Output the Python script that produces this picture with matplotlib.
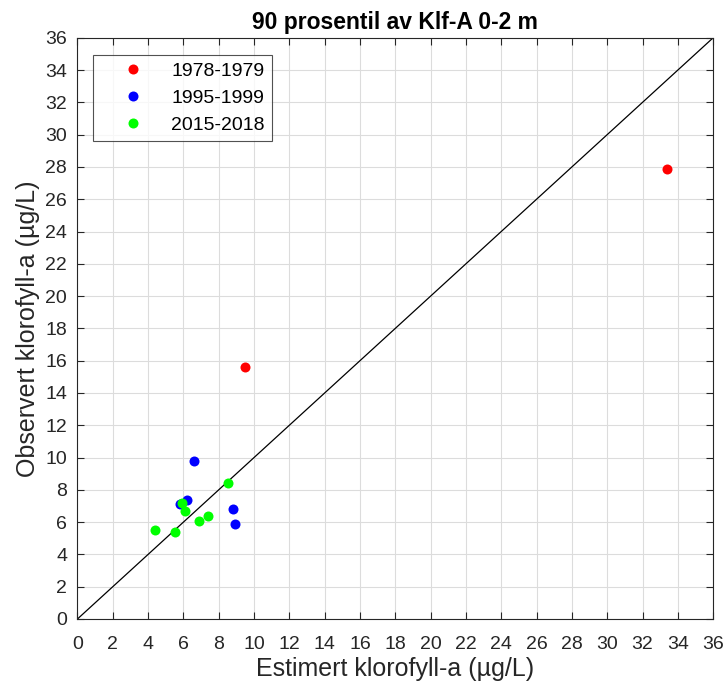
"""Scatter of observed vs estimated chlorophyll-a (90th percentile, 0-2 m)."""

import matplotlib

matplotlib.use("Agg")
import matplotlib.pyplot as plt

plt.rcParams["font.family"] = ["Liberation Sans", "DejaVu Sans"]

# 90th percentile values
periods = ["1978-1979", "1995-1999", "2015-2018"]
colors = ["#ff0000", "#0000ff", "#00ff00"]

est_1978 = [9.5, 33.4]
obs_1978 = [15.6, 27.9]

est_1995 = [6.6, 6.2, 5.8, 8.8, 8.9]
obs_1995 = [9.8, 7.4, 7.1, 6.8, 5.9]

est_2015 = [8.5, 5.9, 6.1, 6.9, 7.4, 4.4, 5.5]
obs_2015 = [8.4, 7.2, 6.7, 6.1, 6.4, 5.5, 5.4]

ticks = list(range(0, 37, 2))
axis_max = 36

fig = plt.figure(figsize=(7.24, 6.87), dpi=100)
ax = fig.add_axes([0.107, 0.099, 0.878, 0.846])

ax.plot([0, axis_max], [0, axis_max], color="black", linewidth=0.9, zorder=2)

series = [(est_1978, obs_1978), (est_1995, obs_1995), (est_2015, obs_2015)]
for (x, y), label, color in zip(series, periods, colors):
    ax.plot(x, y, "o", color=color, markersize=7.2, label=label, zorder=3,
            markeredgewidth=0)

ax.set_xlim(0, axis_max)
ax.set_ylim(0, axis_max)
ax.set_xticks(ticks)
ax.set_yticks(ticks)
ax.grid(True, color="#dcdcdc", linewidth=0.8)
ax.set_axisbelow(True)
ax.tick_params(direction="in", top=True, right=True, labelsize=14,
               colors="#262626", length=5, width=0.8)
ax.tick_params(axis="x", pad=12)
ax.tick_params(axis="y", pad=7.5)
for spine in ax.spines.values():
    spine.set_color("#262626")
    spine.set_linewidth(0.8)

ax.set_xlabel("Estimert klorofyll-a (µg/L)", fontsize=18, color="#262626",
              labelpad=3)
ax.set_ylabel("Observert klorofyll-a (µg/L)", fontsize=18, color="#262626",
              labelpad=4)
ax.set_title("90 prosentil av Klf-A 0-2 m", fontsize=16.5, fontweight="bold",
             pad=6)

leg = ax.legend(loc="upper left", bbox_to_anchor=(0.0245, 0.97), fontsize=14,
                frameon=True, fancybox=False, edgecolor="#262626",
                handletextpad=0.25, borderpad=0.36, labelspacing=0.48,
                handlelength=3.4, borderaxespad=0)
leg.get_frame().set_linewidth(0.8)

fig.savefig("out.png", dpi=100)
